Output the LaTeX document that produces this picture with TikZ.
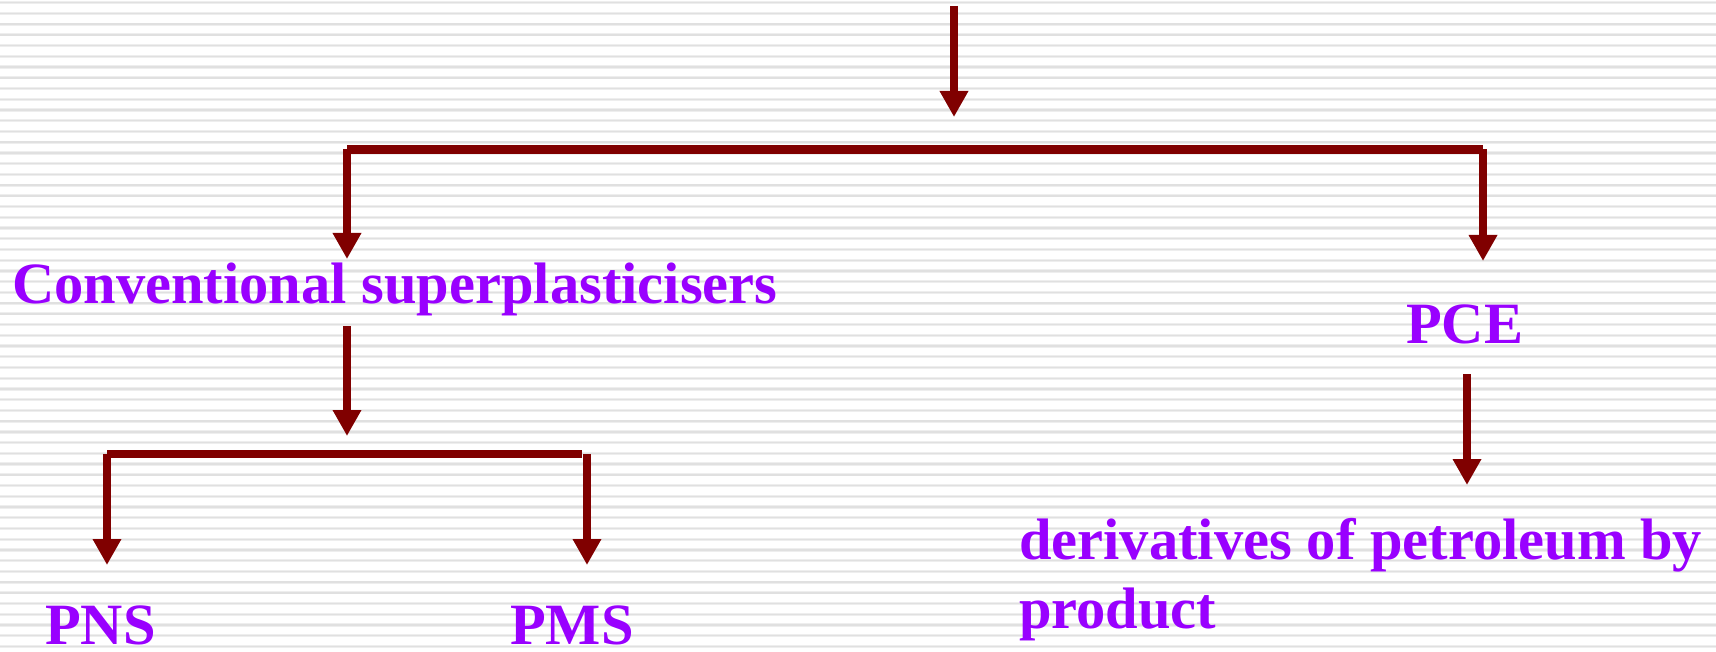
\documentclass[tikz,border=0pt]{standalone}
\usepackage{fontspec}
\setmainfont{Liberation Serif}
\usetikzlibrary{arrows.meta}
\definecolor{linered}{HTML}{800000}
\definecolor{txtpurple}{HTML}{9900FF}
\definecolor{stripeA}{HTML}{EEEEEE}
\definecolor{stripeB}{HTML}{E0E0E0}
\tikzset{
  lbl/.style={anchor=base west, inner sep=0pt, text=txtpurple,
    font=\fontsize{58.5}{69}\selectfont\bfseries},
  conn/.style={draw=linered, line width=8.5pt, line cap=butt},
  arr/.style={conn, -{Triangle[width=27pt,length=26pt]}},
}
\begin{document}
\begin{tikzpicture}[x=1pt,y=-1pt]
\useasboundingbox (0,0) rectangle (1716,652);
\fill[white] (0,0) rectangle (1716,652);
% background stripes
\foreach \k in {0,...,60}{
  \draw[stripeA, line width=3.2pt] (0,{2.7+\k*10.73}) -- (1716,{2.7+\k*10.73});
  \draw[stripeB, line width=1.4pt] (0,{2.7+\k*10.73}) -- (1716,{2.7+\k*10.73});
}
% text nodes
\node[lbl] (conv) at (12,304) {Conventional superplasticisers};
\node[lbl] (pce) at (1406,344) {PCE};
\node[lbl] (pns) at (45,644) {PNS};
\node[lbl] (pms) at (510,644) {PMS};
\node[lbl] (deriv) at (1019,559) {\vtop{\baselineskip=69pt\hbox{derivatives of petroleum by}\hbox{product}}};
% coordinates
\coordinate (top0) at (954,6);
\coordinate (top1) at (954,117);
\coordinate (b1L) at (347,149.5);
\coordinate (b1R) at (1483,149.5);
\coordinate (convIn) at (347,259);
\coordinate (pceIn) at (1483,261);
\coordinate (convOut) at (347,326);
\coordinate (convTip) at (347,436);
\coordinate (b2L) at (107,454);
\coordinate (b2R) at (582,454);
\coordinate (b2Rv) at (587,454);
\coordinate (pnsIn) at (107,565);
\coordinate (pmsIn) at (587,565);
\coordinate (pceOut) at (1467,374);
\coordinate (derivIn) at (1467,485);
% connectors
\draw[arr] (top0) -- (top1);
\draw[conn] (b1L) -- (b1R);
\draw[arr] (b1L) -- (convIn);
\draw[arr] (b1R) -- (pceIn);
\draw[arr] (convOut) -- (convTip);
\draw[conn] (b2L) -- (b2R);
\draw[arr] (b2L) -- (pnsIn);
\draw[arr] (b2Rv) -- (pmsIn);
\draw[arr] (pceOut) -- (derivIn);
\end{tikzpicture}
\end{document}
